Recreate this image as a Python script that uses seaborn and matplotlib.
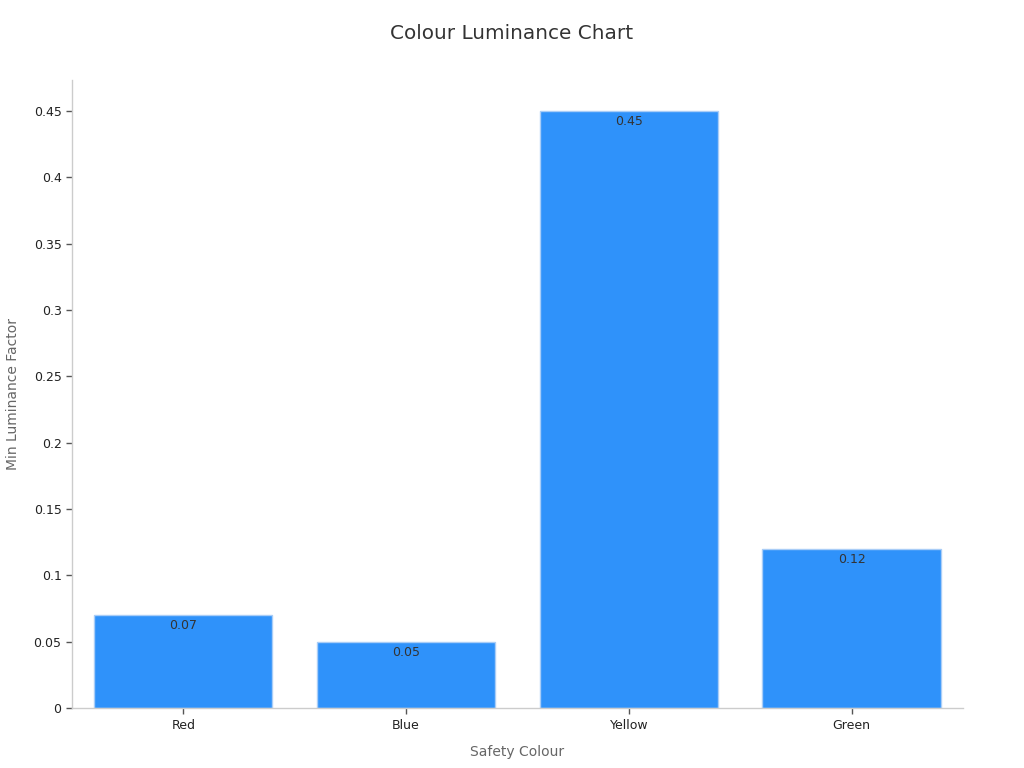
import numpy as np
import pandas as pd
import matplotlib
matplotlib.use("Agg")
import matplotlib.pyplot as plt
import seaborn as sns

# data
colours = ["Red", "Blue", "Yellow", "Green"]
luminance = [0.07, 0.05, 0.45, 0.12]

df = pd.DataFrame({"Safety Colour": colours, "Min Luminance Factor": luminance})

sns.set_theme(style="white")
plt.rcParams['font.family'] = ['DejaVu Sans']

fig = plt.figure(figsize=(10.24, 7.68), dpi=100)
ax = fig.add_axes([0.0703, 0.078, 0.8701, 0.8178])

sns.barplot(data=df, x="Safety Colour", y="Min Luminance Factor", ax=ax,
            color="#2f92fa", saturation=1, width=0.8,
            edgecolor="#a9cdf7", linewidth=1)

for p, v in zip(ax.patches, luminance):
    ax.annotate(f"{v:g}", (p.get_x() + p.get_width() / 2, p.get_height()),
                xytext=(0, -7.5), textcoords="offset points",
                ha="center", va="center", fontsize=9, color="#333333")

ax.set_xlim(-0.5, 3.5)
ax.set_ylim(0, 0.4734)
ax.set_yticks(np.arange(0, 0.451, 0.05))
ax.set_yticklabels(["0"] + [f"{t:g}" for t in np.arange(0.05, 0.451, 0.05)])

for s in ["top", "right"]:
    ax.spines[s].set_visible(False)
for s in ["left", "bottom"]:
    ax.spines[s].set_color("#cccccc")
    ax.spines[s].set_linewidth(1)

ax.tick_params(axis="both", which="major", length=4, width=1, color="#555555",
               labelsize=9, labelcolor="#222222", bottom=True, left=True)
ax.set_xlabel("Safety Colour", fontsize=10, color="#666666", labelpad=10)
ax.set_ylabel("Min Luminance Factor", fontsize=10, color="#666666", labelpad=10)

fig.suptitle("Colour Luminance Chart", y=0.969, fontsize=14.4, color="#333333")

fig.savefig("out.png", dpi=100)
